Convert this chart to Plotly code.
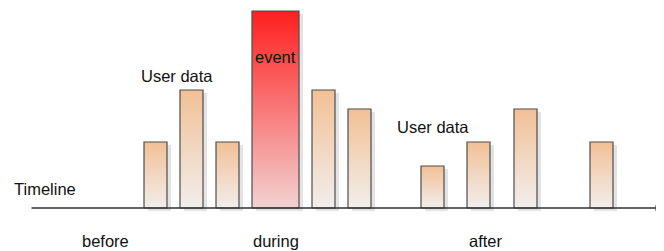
import plotly.graph_objects as go

# --- data ---
times = [155.5, 191.5, 227.5, 275.5, 323.5, 359.5, 432.5, 478.5, 525.5, 601.5]
values = [66, 118, 66, 197, 118, 99, 42, 66, 99, 66]
kinds = ["user", "user", "user", "event", "user", "user", "user", "user", "user", "user"]
phase_labels = ["before", "during", "after"]
phase_pos = [105, 276, 485.5]

BAR_W = {"user": 23, "event": 47}
GRAD = {
    "user": [[0, "#f1eeec"], [1, "#f2c096"]],
    "event": [[0, "#f2d2d2"], [1, "#ff1f1f"]],
}
SHADOW_DX, SHADOW_DY = 4, 3
FONT = dict(family="Liberation Sans, Arial, sans-serif", size=16.5, color="#111111")

fig = go.Figure()

# shadows
for t, v, k in zip(times, values, kinds):
    w = BAR_W[k]
    l, r = t - w / 2 + SHADOW_DX, t + w / 2 + SHADOW_DX
    b, top = -SHADOW_DY, v - SHADOW_DY
    fig.add_trace(go.Scatter(x=[l, r, r, l, l], y=[b, b, top, top, b], mode="lines",
                             fill="toself", fillcolor="#e3e3e3", line=dict(width=0),
                             hoverinfo="skip", showlegend=False))

# bars with gradient
for t, v, k in zip(times, values, kinds):
    w = BAR_W[k]
    l, r = t - w / 2, t + w / 2
    fig.add_trace(go.Scatter(x=[l, r, r, l, l], y=[0, 0, v, v, 0], mode="lines",
                             fill="toself",
                             fillgradient=dict(type="vertical", colorscale=GRAD[k], start=0, stop=v),
                             line=dict(color="#4d4d4d", width=1.2),
                             hoverinfo="skip", showlegend=False))

# timeline axis with arrow
fig.add_annotation(x=662, y=0, ax=30, ay=0, xref="x", yref="y", axref="x", ayref="y",
                   text="", showarrow=True, arrowhead=2, arrowsize=1, arrowwidth=1.3,
                   arrowcolor="#333333")

# labels
fig.add_annotation(x=45, y=208 - 189, text="Timeline", showarrow=False, font=FONT)
fig.add_annotation(x=177, y=208 - 76, text="User data", showarrow=False, font=FONT)
fig.add_annotation(x=433, y=208 - 127, text="User data", showarrow=False, font=FONT)
fig.add_annotation(x=275.5, y=208 - 57, text="event", showarrow=False, font=FONT)
for lab, px in zip(phase_labels, phase_pos):
    fig.add_annotation(x=px, y=208 - 241, text=lab, showarrow=False, font=FONT)

# page body has an 8px margin: size and ranges compensate for it
fig.update_layout(
    width=656, height=243, margin=dict(l=0, r=0, t=0, b=0),
    paper_bgcolor="white", plot_bgcolor="white",
    xaxis=dict(range=[8, 664], visible=False, fixedrange=True),
    yaxis=dict(range=[-43, 200], visible=False, fixedrange=True),
)
fig.write_html("out.html")
